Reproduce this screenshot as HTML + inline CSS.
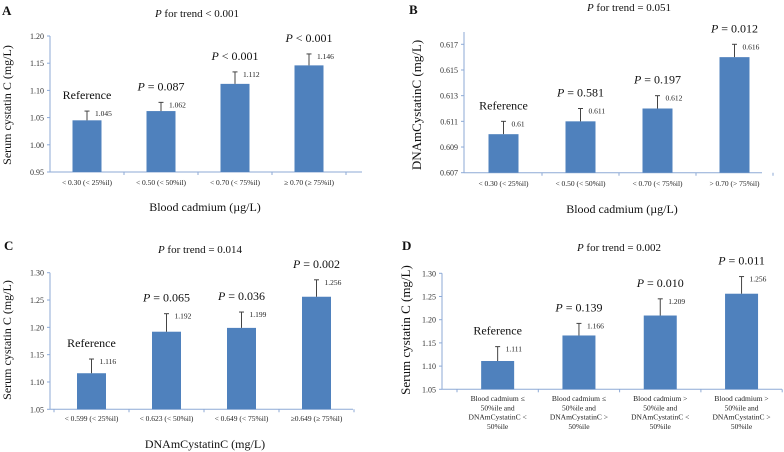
<!DOCTYPE html>
<html><head><meta charset="utf-8"><style>
html,body{margin:0;padding:0;background:#fff;}
svg{display:block;font-family:"Liberation Serif",serif;}
</style></head><body>
<svg id="fig" width="784" height="452" viewBox="0 0 784 452" xmlns="http://www.w3.org/2000/svg"></svg>
<script>
// Panel A data
const catsA = ["< 0.30 (< 25%il)", "< 0.50 (< 50%il)", "< 0.70 (< 75%il)", "≥ 0.70 (≥ 75%il)"];
const valsA = [1.045, 1.062, 1.112, 1.146];
const errTopA = [1.062, 1.078, 1.134, 1.167];
const pLabelsA = ["Reference", "P = 0.087", "P < 0.001", "P < 0.001"];
const valLabelsA = ["1.045", "1.062", "1.112", "1.146"];
const ticksA = [0.95, 1.00, 1.05, 1.10, 1.15, 1.20];
const tickLabelsA = ["0.95", "1.00", "1.05", "1.10", "1.15", "1.20"];
// Panel B data
const catsB = ["< 0.30 (< 25%il)", "< 0.50 (< 50%il)", "< 0.70 (< 75%il)", "> 0.70 (> 75%il)"];
const valsB = [0.610, 0.611, 0.612, 0.616];
const errTopB = [0.611, 0.612, 0.613, 0.617];
const pLabelsB = ["Reference", "P = 0.581", "P = 0.197", "P = 0.012"];
const valLabelsB = ["0.61", "0.611", "0.612", "0.616"];
const ticksB = [0.607, 0.609, 0.611, 0.613, 0.615, 0.617];
const tickLabelsB = ["0.607", "0.609", "0.611", "0.613", "0.615", "0.617"];
// Panel C data
const catsC = ["< 0.599 (< 25%il)", "< 0.623 (< 50%il)", "< 0.649 (< 75%il)", "≥0.649 (≥ 75%il)"];
const valsC = [1.116, 1.192, 1.199, 1.256];
const errTopC = [1.142, 1.225, 1.228, 1.287];
const pLabelsC = ["Reference", "P = 0.065", "P = 0.036", "P = 0.002"];
const valLabelsC = ["1.116", "1.192", "1.199", "1.256"];
const ticksC = [1.05, 1.10, 1.15, 1.20, 1.25, 1.30];
const tickLabelsC = ["1.05", "1.10", "1.15", "1.20", "1.25", "1.30"];
// Panel D data
const catsD = [
  ["Blood cadmium ≤", "50%ile and", "DNAmCystatinC <", "50%ile"],
  ["Blood cadmium ≤", "50%ile and", "DNAmCystatinC >", "50%ile"],
  ["Blood cadmium >", "50%ile and", "DNAmCystatinC <", "50%ile"],
  ["Blood cadmium >", "50%ile and", "DNAmCystatinC >", "50%ile"]];
const valsD = [1.111, 1.166, 1.209, 1.256];
const errTopD = [1.142, 1.192, 1.245, 1.293];
const pLabelsD = ["Reference", "P = 0.139", "P = 0.010", "P = 0.011"];
const valLabelsD = ["1.111", "1.166", "1.209", "1.256"];
const ticksD = [1.05, 1.10, 1.15, 1.20, 1.25, 1.30];
const tickLabelsD = ["1.05", "1.10", "1.15", "1.20", "1.25", "1.30"];

const NS = "http://www.w3.org/2000/svg";
const svg = document.getElementById("fig");
function mk(tag, attrs, parent, text) {
  const e = document.createElementNS(NS, tag);
  for (const k in attrs) e.setAttribute(k, attrs[k]);
  if (text !== undefined) e.textContent = text;
  (parent || svg).appendChild(e);
  return e;
}

function panel(cfg, cats, vals, errTop, pLabels, valLabels, ticks, tickLabels) {
  const g = mk("g", {});
  
  
  const yMin = ticks[0], yMax = ticks[ticks.length - 1];
  const y = v => cfg.yBot - (v - yMin) / (yMax - yMin) * (cfg.yBot - cfg.yTop);
  const xc = i => cfg.slot0 + cfg.slotW * (i + 0.5);

  const lab = mk("text", {x: cfg.lx, y: cfg.ly, "font-size": 13, "font-weight": "bold", fill: "#111"}, g, cfg.letter);
  
  

  const t = mk("text", {x: cfg.tx, y: cfg.ty, "font-size": 11, "text-anchor": "middle", fill: "#111"}, g);
  
  
  mk("tspan", {"font-style": "italic"}, t, "P");
  mk("tspan", {}, t, "  " + cfg.trend);

  const ax = mk("line", {x1: cfg.ax, y1: cfg.yAxTop, x2: cfg.ax, y2: cfg.yBot, stroke: "#8eaad6", "stroke-width": 1}, g);
  
  
  const xa = mk("line", {x1: cfg.ax, y1: cfg.yBot, x2: cfg.axEnd, y2: cfg.yBot, stroke: "#8eaad6", "stroke-width": 1}, g);
  
  

  ticks.forEach((tv, i) => {
    const ty = y(tv);
    const tk = mk("line", {x1: cfg.ax - 3, y1: ty, x2: cfg.ax, y2: ty, stroke: "#8eaad6"}, g);
    
    
    const tl = mk("text", {x: cfg.ax - 6, y: ty + 3, "font-size": 8, "text-anchor": "end", fill: "#333"}, g, tickLabels[i]);
    
    
  });
  for (let i = 0; i <= cats.length; i++) {
    const tx = cfg.slot0 + cfg.slotW * i;
    if (tx <= cfg.ax + 1) continue;
    const tk = mk("line", {x1: tx, y1: cfg.yBot, x2: tx, y2: cfg.yBot + 3, stroke: "#8eaad6"}, g);
    
    
  }

  vals.forEach((v, i) => {
    const cx = xc(i);
    const b = mk("rect", {x: cx - cfg.barW / 2, y: y(v), width: cfg.barW, height: cfg.yBot - y(v), fill: "#4f81bd"}, g);
    
    
    const e1 = mk("line", {x1: cx, y1: y(v), x2: cx, y2: y(errTop[i]), stroke: "#444", "stroke-width": 1}, g);
    
    
    const e2 = mk("line", {x1: cx - 2.5, y1: y(errTop[i]), x2: cx + 2.5, y2: y(errTop[i]), stroke: "#444", "stroke-width": 1}, g);
    
    
    const vl = mk("text", {x: cx + 8, y: y(errTop[i]) + 5, "font-size": 7.5, fill: "#222"}, g, valLabels[i]);
    
    
    const pl = mk("text", {x: cx, y: y(errTop[i]) - 12, "font-size": 12, "text-anchor": "middle", fill: "#111"}, g);
    
    
    if (pLabels[i].startsWith("P")) {
      mk("tspan", {"font-style": "italic"}, pl, "P");
      mk("tspan", {}, pl, pLabels[i].slice(1));
    } else pl.textContent = pLabels[i];
    const c = cats[i];
    const lines = Array.isArray(c) ? c : [c];
    lines.forEach((ln, j) => {
      const cl = mk("text", {x: cx, y: cfg.catY + j * 9.3, "font-size": 7.5, "text-anchor": "middle", fill: "#222"}, g, ln);
      
      
    });
  });

  if (cfg.xTitle) {
    const xt = mk("text", {x: cfg.xtx, y: cfg.xty, "font-size": 12, "text-anchor": "middle", fill: "#111"}, g, cfg.xTitle);
    
    
  }
  const yt = mk("text", {x: 0, y: 0, "font-size": cfg.ytSize || 12, "text-anchor": "middle", fill: "#111",
    transform: "translate(" + cfg.ytx + "," + cfg.yty + ") rotate(-90)"}, g, cfg.yTitle);
  
  
}

panel({name: "panel-a", letter: "A", lx: 2, ly: 15, tx: 197, ty: 17, trend: "for trend < 0.001",
  ax: 50, axEnd: 362, yAxTop: 36, yTop: 36, yBot: 172, slot0: 50, slotW: 74, barW: 29, catY: 185,
  xTitle: "Blood cadmium (µg/L)", xtx: 205, xty: 211, yTitle: "Serum cystatin C (mg/L)", ytx: 11, yty: 105},
  catsA, valsA, errTopA, pLabelsA, valLabelsA, ticksA, tickLabelsA);

panel({name: "panel-b", letter: "B", lx: 409, ly: 14, tx: 629, ty: 11, trend: "for trend = 0.051",
  ax: 464, axEnd: 762, yAxTop: 32, yTop: 44.3, yBot: 172.7, slot0: 465, slotW: 77, barW: 30, catY: 186,
  xTitle: "Blood cadmium (µg/L)", xtx: 622, xty: 213, yTitle: "DNAmCystatinC (mg/L)", ytx: 421, yty: 105, ytSize: 13},
  catsB, valsB, errTopB, pLabelsB, valLabelsB, ticksB, tickLabelsB);

panel({name: "panel-c", letter: "C", lx: 4, ly: 250, tx: 200, ty: 253, trend: "for trend = 0.014",
  ax: 50, axEnd: 353, yAxTop: 272.7, yTop: 272.7, yBot: 409.3, slot0: 54, slotW: 75, barW: 29, catY: 421,
  xTitle: "DNAmCystatinC (mg/L)", xtx: 205, xty: 448, yTitle: "Serum cystatin C (mg/L)", ytx: 11, yty: 340},
  catsC, valsC, errTopC, pLabelsC, valLabelsC, ticksC, tickLabelsC);

panel({name: "panel-d", letter: "D", lx: 402, ly: 250, tx: 619, ty: 251, trend: "for trend = 0.002",
  ax: 442, axEnd: 782, yAxTop: 273.3, yTop: 273.3, yBot: 389.3, slot0: 457, slotW: 81.3, barW: 33, catY: 401,
  xTitle: "", yTitle: "Serum cystatin C (mg/L)", ytx: 410, yty: 330, ytSize: 13},
  catsD, valsD, errTopD, pLabelsD, valLabelsD, ticksD, tickLabelsD);
</script>
</body></html>
